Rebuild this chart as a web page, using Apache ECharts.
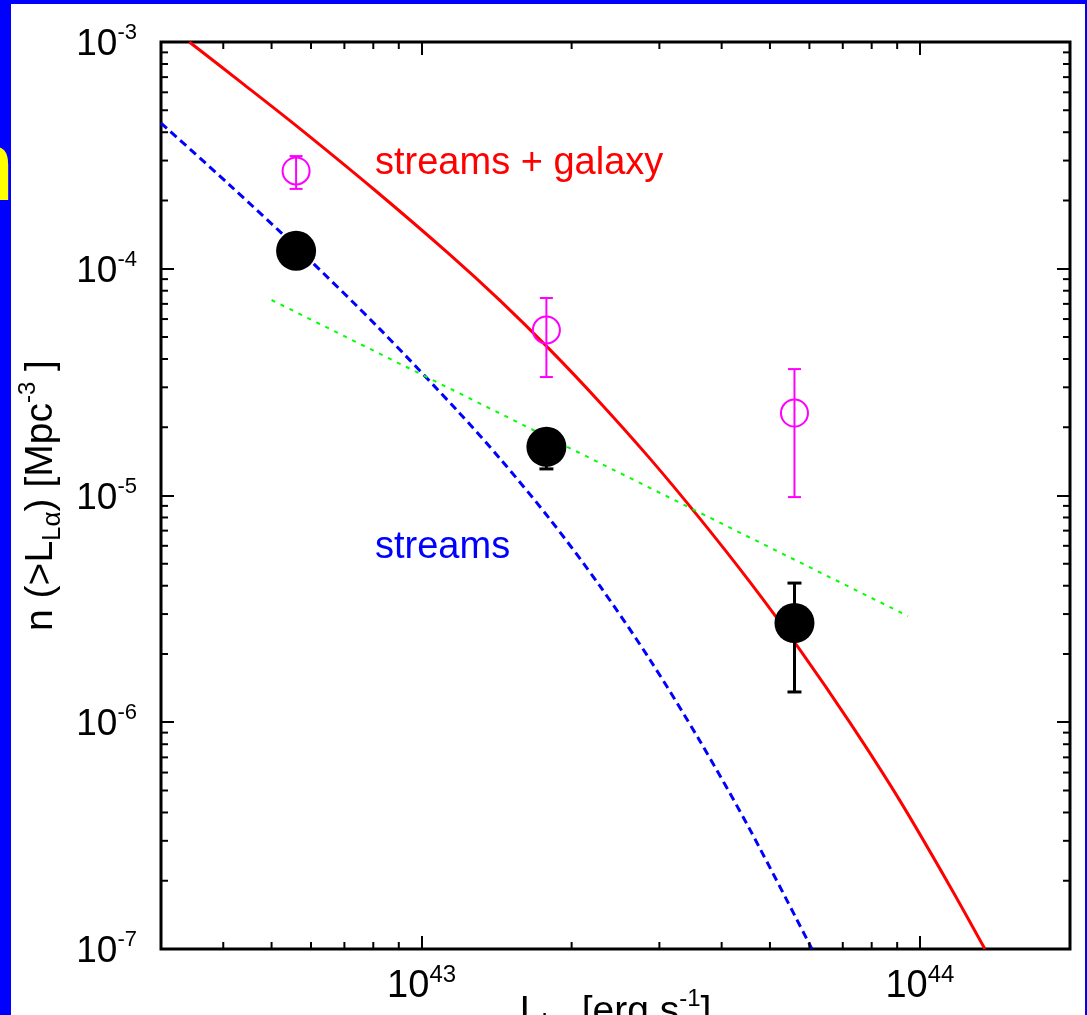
<!DOCTYPE html>
<html>
<head>
<meta charset="utf-8">
<script src="https://cdn.jsdelivr.net/npm/echarts@6.0.0/dist/echarts.min.js"></script>
<style>
html,body{margin:0;padding:0;background:#0000ff;}
#chart{width:1087px;height:1015px;}
</style>
</head>
<body>
<div id="chart"></div>
<script>
// ---- axis ranges ----
const xMin = 3e42, xMax = 2e44;
const yMin = 1e-7, yMax = 1e-3;

// ---- minor tick positions ----
const xMinorTicks = [4e42,5e42,6e42,7e42,8e42,9e42,2e43,3e43,4e43,5e43,6e43,7e43,8e43,9e43];
const yMinorTicks = [2e-7,3e-7,4e-7,5e-7,6e-7,7e-7,8e-7,9e-7,
                     2e-6,3e-6,4e-6,5e-6,6e-6,7e-6,8e-6,9e-6,
                     2e-5,3e-5,4e-5,5e-5,6e-5,7e-5,8e-5,9e-5,
                     2e-4,3e-4,4e-4,5e-4,6e-4,7e-4,8e-4,9e-4];

// ---- red solid curve: streams + galaxy ----
const redL = [3.42e42, 4.41e42, 5.69e42, 8.04e42, 1.138e43, 1.434e43, 1.807e43, 2.277e43, 2.87e43, 3.615e43, 4.556e43, 5.74e43, 7.23e43, 9.12e43, 1.149e44, 1.35e44];
const redN = [1.0e-3, 6.47e-4, 4.16e-4, 2.23e-4, 1.157e-4, 7.27e-5, 4.41e-5, 2.58e-5, 1.458e-5, 7.93e-6, 4.16e-6, 2.09e-6, 9.98e-7, 4.50e-7, 1.888e-7, 1.0e-7];

// ---- blue dashed curve: streams ----
const blueL = [3.0e42, 4.12e42, 5.69e42, 8.24e42, 1.192e43, 1.434e43, 1.807e43, 2.277e43, 2.87e43, 3.615e43, 4.556e43, 6.07e43];
const blueN = [4.39e-4, 2.34e-4, 1.207e-4, 5.43e-5, 2.307e-5, 1.461e-5, 7.89e-6, 4.00e-6, 1.891e-6, 8.29e-7, 3.37e-7, 1.0e-7];

// ---- green dotted power law ----
const greenL = [5.0e42, 9.46e43];
const greenN = [7.28e-5, 2.94e-6];

// ---- black filled points ----
const blackL  = [5.6e42, 1.78e43, 5.6e43];
const blackN  = [1.20e-4, 1.64e-5, 2.74e-6];
const blackLo = [null, 1.31e-5, 1.36e-6];
const blackHi = [null, 1.90e-5, 4.11e-6];

// ---- magenta open points ----
const pinkL  = [5.6e42, 1.78e43, 5.6e43];
const pinkN  = [2.70e-4, 5.37e-5, 2.31e-5];
const pinkLo = [2.25e-4, 3.33e-5, 9.84e-6];
const pinkHi = [3.14e-4, 7.43e-5, 3.61e-5];

const FONT = '"Liberation Sans", Arial, Helvetica, sans-serif';

function zip(a, b) { return a.map((v, i) => [v, b[i]]); }
function errData(L, lo, hi) {
  const out = [];
  L.forEach((v, i) => { if (lo[i] != null) out.push([v, lo[i], hi[i]]); });
  return out;
}
function expLabel(v) {
  const lg = Math.log10(v);
  const e = Math.round(lg);
  if (Math.abs(lg - e) > 1e-6) return '';
  return '{b|10}{p|' + e + '}';
}
function errRender(color, lw, hw) {
  return function (params, api) {
    const x = api.value(0), lo = api.value(1), hi = api.value(2);
    const a = api.coord([x, lo]), b = api.coord([x, hi]);
    const st = { stroke: color, lineWidth: lw };
    return { type: 'group', children: [
      { type: 'line', shape: { x1: a[0], y1: a[1], x2: b[0], y2: b[1] }, style: st },
      { type: 'line', shape: { x1: a[0] - hw, y1: a[1], x2: a[0] + hw, y2: a[1] }, style: st },
      { type: 'line', shape: { x1: b[0] - hw, y1: b[1], x2: b[0] + hw, y2: b[1] }, style: st }
    ]};
  };
}

const chart = echarts.init(document.getElementById('chart'), null, { renderer: 'canvas' });

const yLabelRich = {
  b: { fontSize: 37, fontFamily: FONT, color: '#000', lineHeight: 46 },
  p: { fontSize: 22, fontFamily: FONT, color: '#000', lineHeight: 24, verticalAlign: 'top' }
};
const xLabelRich = {
  b: { fontSize: 38, fontFamily: FONT, color: '#000', lineHeight: 48 },
  p: { fontSize: 24, fontFamily: FONT, color: '#000', lineHeight: 24, verticalAlign: 'top' }
};
const nameRich = {
  m: { fontSize: 39, fontFamily: FONT, color: '#000', lineHeight: 50 },
  s: { fontSize: 26, fontFamily: FONT, color: '#000', lineHeight: 26, verticalAlign: 'bottom' },
  p: { fontSize: 24, fontFamily: FONT, color: '#000', lineHeight: 24, verticalAlign: 'top' }
};

const option = {
  backgroundColor: '#0000ff',
  animation: false,
  grid: { left: 161, top: 42, right: 17, bottom: 66, outerBoundsMode: 'none', containLabel: false,
          show: true, borderColor: '#000', borderWidth: 3, backgroundColor: 'transparent' },
  graphic: [
    { type: 'text', z: -110, x: -41, y: 222, style: { text: 'n', fill: '#ffff00', font: '100px ' + FONT, verticalAlign: 'bottom' } },
    { type: 'rect', z: -100, shape: { x: 11, y: 4, width: 1074, height: 1011 }, style: { fill: '#ffffff' } },
    { type: 'text', z: 50, x: 375, y: 164, style: { text: 'streams + galaxy', fill: '#ff0000', font: '38px ' + FONT, verticalAlign: 'middle' } },
    { type: 'text', z: 50, x: 375, y: 548, style: { text: 'streams', fill: '#0000ff', font: '38px ' + FONT, verticalAlign: 'middle' } }
  ],
  xAxis: [
    {
      type: 'log', logBase: 10, min: xMin, max: xMax, position: 'bottom',
      axisLine: { show: false },
      splitLine: { show: false },
      axisTick: { show: true, inside: true, length: 13, lineStyle: { color: '#000', width: 2 } },
      axisLabel: { margin: 14, formatter: expLabel, rich: xLabelRich, showMinLabel: true, showMaxLabel: true },
      name: '{m|L}{s|Lα}{m| [erg s}{p|-1}{m|]}',
      nameLocation: 'middle', nameGap: 38, nameMoveOverlap: false,
      nameTextStyle: { rich: nameRich }
    },
    {
      type: 'log', logBase: 10, min: xMin, max: xMax, position: 'top',
      axisLine: { show: false }, splitLine: { show: false }, axisLabel: { show: false },
      axisTick: { show: true, inside: true, length: 13, lineStyle: { color: '#000', width: 2 } }
    }
  ],
  yAxis: [
    {
      type: 'log', logBase: 10, min: yMin, max: yMax, position: 'left',
      axisLine: { show: false }, splitLine: { show: false },
      axisTick: { show: true, inside: true, length: 13, lineStyle: { color: '#000', width: 2 } },
      axisLabel: { margin: 24, formatter: expLabel, rich: yLabelRich, padding: [6, 0, 0, 0] },
      name: '{m|n (>L}{s|Lα}{m|) [Mpc}{p|-3}{m| ]}',
      nameLocation: 'middle', nameGap: 95, nameMoveOverlap: false,
      nameTextStyle: { rich: nameRich }
    },
    {
      type: 'log', logBase: 10, min: yMin, max: yMax, position: 'right',
      axisLine: { show: false }, splitLine: { show: false }, axisLabel: { show: false },
      axisTick: { show: true, inside: true, length: 13, lineStyle: { color: '#000', width: 2 } }
    }
  ],
  series: [
    {
      type: 'custom', name: 'xminor', silent: true, clip: false, z: 5,
      data: xMinorTicks.map(v => [v, yMin]),
      renderItem: function (params, api) {
        const v = api.value(0);
        const a = api.coord([v, yMin]), b = api.coord([v, yMax]);
        const st = { stroke: '#000', lineWidth: 2 };
        return { type: 'group', children: [
          { type: 'line', shape: { x1: a[0], y1: a[1], x2: a[0], y2: a[1] - 7 }, style: st },
          { type: 'line', shape: { x1: b[0], y1: b[1], x2: b[0], y2: b[1] + 7 }, style: st }
        ]};
      }
    },
    {
      type: 'custom', name: 'yminor', silent: true, clip: false, z: 5,
      data: yMinorTicks.map(v => [xMin, v]),
      renderItem: function (params, api) {
        const v = api.value(1);
        const a = api.coord([xMin, v]), b = api.coord([xMax, v]);
        const st = { stroke: '#000', lineWidth: 2 };
        return { type: 'group', children: [
          { type: 'line', shape: { x1: a[0], y1: a[1], x2: a[0] + 7, y2: a[1] }, style: st },
          { type: 'line', shape: { x1: b[0], y1: b[1], x2: b[0] - 7, y2: b[1] }, style: st }
        ]};
      }
    },
    {
      type: 'line', name: 'streams + galaxy', data: zip(redL, redN), smooth: 0.3, showSymbol: false,
      lineStyle: { color: '#ff0000', width: 3 }, z: 3
    },
    {
      type: 'line', name: 'streams', data: zip(blueL, blueN), smooth: 0.3, showSymbol: false,
      lineStyle: { color: '#0000ff', width: 3, type: [8, 5] }, z: 3
    },
    {
      type: 'line', name: 'power law', data: zip(greenL, greenN), showSymbol: false,
      lineStyle: { color: '#00ff00', width: 2, type: [4, 6] }, z: 3
    },
    {
      type: 'custom', name: 'black err', z: 6,
      data: errData(blackL, blackLo, blackHi),
      encode: { x: 0, y: [1, 2] },
      renderItem: errRender('#000', 3, 7)
    },
    {
      type: 'scatter', name: 'black', data: zip(blackL, blackN), symbol: 'circle', symbolSize: 40,
      itemStyle: { color: '#000', opacity: 1 }, z: 7
    },
    {
      type: 'custom', name: 'pink err', z: 6,
      data: errData(pinkL, pinkLo, pinkHi),
      encode: { x: 0, y: [1, 2] },
      renderItem: errRender('#ff00ff', 2, 6.5)
    },
    {
      type: 'scatter', name: 'pink', data: zip(pinkL, pinkN), symbol: 'circle', symbolSize: 27,
      itemStyle: { color: 'rgba(0,0,0,0)', borderColor: '#ff00ff', borderWidth: 2, opacity: 1 }, z: 7
    }
  ]
};
chart.setOption(option);
</script>
</body>
</html>
